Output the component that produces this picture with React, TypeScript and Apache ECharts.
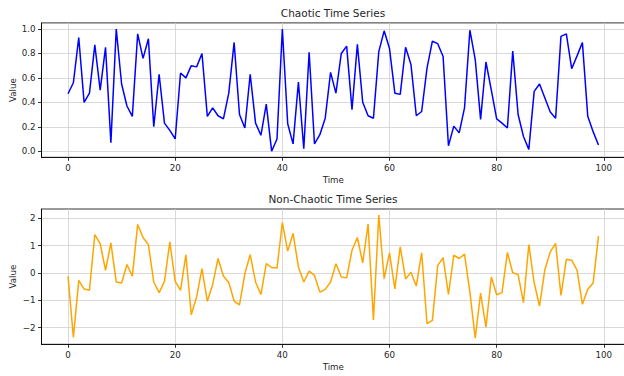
import React, { useEffect, useRef } from "react";
import * as echarts from "echarts";

const TIME = Array.from({ length: 100 }, (_, i) => i);

const CHAOTIC = [
  0.47, 0.56, 0.93, 0.40, 0.475, 0.87, 0.50, 0.85, 0.07, 1.0,
  0.55, 0.37, 0.285, 0.96, 0.76, 0.92, 0.20, 0.63, 0.23, 0.17,
  0.10, 0.64, 0.60, 0.70, 0.69, 0.80, 0.285, 0.355, 0.29, 0.265,
  0.475, 0.89, 0.30, 0.19, 0.63, 0.23, 0.13, 0.385, 0.0, 0.10,
  1.0, 0.225, 0.06, 0.565, 0.02, 0.81, 0.06, 0.135, 0.27, 0.645,
  0.475, 0.80, 0.86, 0.34, 0.875, 0.40, 0.29, 0.27, 0.815, 0.985,
  0.84, 0.475, 0.465, 0.85, 0.71, 0.29, 0.325, 0.68, 0.90, 0.88,
  0.775, 0.045, 0.205, 0.15, 0.355, 0.99, 0.75, 0.26, 0.73, 0.50,
  0.265, 0.23, 0.19, 0.82, 0.30, 0.12, 0.015, 0.49, 0.55, 0.435,
  0.32, 0.27, 0.94, 0.96, 0.675, 0.78, 0.89, 0.285, 0.16, 0.05,
];

const NON_CHAOTIC = [
  -0.12, -2.36, -0.27, -0.59, -0.63, 1.41, 1.08, 0.10, 1.10, -0.33,
  -0.37, 0.31, -0.12, 1.78, 1.30, 1.04, -0.33, -0.72, -0.31, 1.14,
  -0.31, -0.64, 0.67, -1.53, -0.88, 0.16, -1.04, -0.42, 0.53, -0.11,
  -0.35, -1.03, -1.17, -0.02, 0.67, -0.33, -0.79, 0.34, 0.20, 0.18,
  1.85, 0.80, 1.45, 0.22, -0.33, 0.07, -0.09, -0.70, -0.60, -0.33,
  0.34, -0.15, -0.18, 0.83, 1.30, 0.37, 1.79, -1.72, 2.12, -0.21,
  0.74, -0.58, 0.96, -0.22, 0.03, -0.48, 0.74, -1.86, -1.74, 0.28,
  0.56, -0.79, 0.65, 0.53, 0.69, -0.70, -2.39, -0.74, -1.99, -0.15,
  -0.80, -0.72, 0.75, 0.01, -0.06, -1.09, 1.04, -0.36, -1.21, 0.13,
  0.77, 1.08, -0.82, 0.50, 0.47, 0.10, -1.15, -0.60, -0.37, 1.35,
];

const X_TICKS = [0, 20, 40, 60, 80, 100];
const Y_TICKS_TOP = [0, 0.2, 0.4, 0.6, 0.8, 1.0];
const Y_TICKS_BOTTOM = [-2, -1, 0, 1, 2];
const TITLES = ["Chaotic Time Series", "Non-Chaotic Time Series"];
const X_NAME = "Time";
const Y_NAME = "Value";

const FONT = "DejaVu Sans";

function padded(arr: number[]): [number, number] {
  const lo = Math.min(...arr);
  const hi = Math.max(...arr);
  const m = (hi - lo) * 0.05;
  return [lo - m, hi + m];
}

export default function App() {
  const ref = useRef<HTMLDivElement>(null);

  useEffect(() => {
    if (!ref.current) return;
    const chart = echarts.init(ref.current, undefined, { renderer: "svg" });
    const [xMin, xMax] = padded(TIME);
    const [y0Min, y0Max] = padded(CHAOTIC);
    const [y1Min, y1Max] = padded(NON_CHAOTIC);
    const minus = (s: string) => s.replace("-", "\u2212");

    const labelStyle = { fontFamily: FONT, fontSize: 8.7, color: "#262626" };
    const tick = { show: true, length: 3.5, lineStyle: { color: "#000", width: 0.8 } };
    const split = { show: true, lineStyle: { color: "#cfcfcf", width: 0.8 } };
    const axisLine = { show: true, onZero: false, lineStyle: { color: "#000", width: 0.8 } };

    const xAxisFor = (gi: number) => ({
      gridIndex: gi,
      type: "value",
      min: xMin,
      max: xMax,
      axisLine,
      axisTick: { ...tick, customValues: X_TICKS },
      axisLabel: { ...labelStyle, margin: 6, customValues: X_TICKS, formatter: (v: number) => String(v) },
      splitLine: split,
      name: X_NAME,
      nameLocation: "middle",
      nameGap: 18,
      nameMoveOverlap: false,
      nameTextStyle: { ...labelStyle },
    });

    const yAxisFor = (gi: number, mn: number, mx: number, ticks: number[], fmt: (v: number) => string) => ({
      gridIndex: gi,
      type: "value",
      min: mn,
      max: mx,
      axisLine,
      axisTick: { ...tick, customValues: ticks },
      axisLabel: { ...labelStyle, margin: 6, customValues: ticks, formatter: fmt },
      splitLine: split,
      name: Y_NAME,
      nameLocation: "middle",
      nameGap: 24.5,
      nameMoveOverlap: false,
      nameRotate: 90,
      nameTextStyle: { ...labelStyle },
    });

    const titleStyle = { fontFamily: FONT, fontSize: 10.5, fontWeight: "normal", color: "#262626" };

    chart.setOption({
      animation: false,
      backgroundColor: "#fff",
      title: [
        { text: TITLES[0], left: 333, top: 7, padding: 0, textAlign: "center", textStyle: titleStyle },
        { text: TITLES[1], left: 333, top: 193, padding: 0, textAlign: "center", textStyle: titleStyle },
      ],
      grid: [
        { left: 41.5, right: -1, top: 22.9, height: 134.4, show: true, borderColor: "#000", borderWidth: 0.8,
          backgroundColor: "transparent", containLabel: false, outerBoundsMode: "none" },
        { left: 41.5, right: -1, top: 209, height: 135.3, show: true, borderColor: "#000", borderWidth: 0.8,
          backgroundColor: "transparent", containLabel: false, outerBoundsMode: "none" },
      ],
      xAxis: [xAxisFor(0), xAxisFor(1)],
      yAxis: [
        yAxisFor(0, y0Min, y0Max, Y_TICKS_TOP, (v: number) => v.toFixed(1)),
        yAxisFor(1, y1Min, y1Max, Y_TICKS_BOTTOM, (v: number) => minus(String(Math.round(v)))),
      ],
      series: [
        {
          type: "line",
          xAxisIndex: 0,
          yAxisIndex: 0,
          showSymbol: false,
          symbol: "none",
          lineStyle: { color: "#0000ff", width: 1.5 },
          data: TIME.map((t, i) => [t, CHAOTIC[i]]),
        },
        {
          type: "line",
          xAxisIndex: 1,
          yAxisIndex: 1,
          showSymbol: false,
          symbol: "none",
          lineStyle: { color: "#ffa500", width: 1.5 },
          data: TIME.map((t, i) => [t, NON_CHAOTIC[i]]),
        },
      ],
    });

    return () => chart.dispose();
  }, []);

  return (
    <div
      ref={ref}
      style={{ position: "fixed", left: 0, top: 0, width: 624, height: 376, background: "#fff" }}
    />
  );
}
